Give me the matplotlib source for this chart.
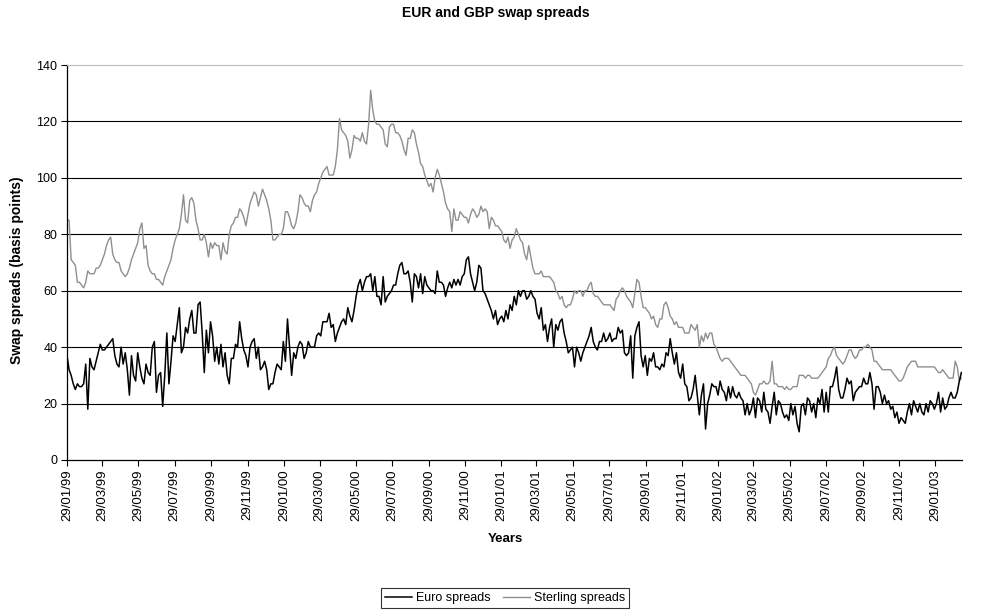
import matplotlib
matplotlib.use("Agg")
import matplotlib.pyplot as plt
import pandas as pd

plt.rcParams['font.family'] = ['Liberation Sans', 'DejaVu Sans']

# readings on Fridays, starting 29/01/1999 (basis points)
euro_fri = [37, 30, 25, 26, 27, 18, 33, 35, 41, 39, 41, 43, 34, 40, 38, 23, 30, 38, 29, 34,
            30, 42, 30, 19, 45, 35, 42, 54, 40, 45, 53, 45, 56, 31, 38, 44,
            40, 41, 38, 27, 36, 40, 43, 37, 40, 43, 40, 33, 32, 27, 31, 33, 42, 50, 30, 36,
            42, 36, 42, 40, 44, 44, 49, 52, 48, 45, 49, 48, 51, 53, 62,
            60, 65, 66, 65, 58, 65, 58, 60, 62, 69, 66, 67, 56, 65, 66, 65, 61, 60, 67, 63,
            58, 63, 64, 64, 65, 71, 66, 60, 69, 60, 57, 53, 53, 50, 49,
            50, 53, 55, 58, 60, 58, 58, 52, 54, 48, 47, 40, 46, 50, 42, 39, 33, 38, 38, 42,
            47, 40, 42, 45, 43, 42, 43, 45, 38, 38, 29, 47, 37, 37, 36,
            38, 33, 34, 38, 43, 34, 31, 34, 26, 22, 30, 16, 27, 20, 27, 26, 28, 24, 26, 26,
            22, 22, 16, 16, 22, 22, 17, 18, 13, 24, 21, 17, 16, 20, 19,
            10, 20, 22, 17, 15, 20, 17, 17, 26, 33, 22, 25, 27, 21, 25, 26, 27, 31, 18, 26,
            20, 20, 18, 15, 13, 14, 17, 16, 19, 20, 16, 17, 20, 20, 17, 18, 22,
            22, 24, 31]

sterling_fri = [85, 71, 69, 63, 61, 67, 66, 68, 69, 73, 78, 73, 70, 67, 65, 68, 73, 77, 84, 76,
                67, 66, 64, 62, 67, 71, 78, 82, 94, 84, 93, 85, 78, 80, 72, 75,
                76, 71, 74, 80, 84, 86, 88, 83, 91, 95, 90, 96, 92, 85, 78, 80, 82, 88, 83, 84,
                94, 91, 90, 92, 95, 100, 103, 101, 101, 110, 117, 115, 107, 115, 114,
                116, 112, 131, 120, 119, 117, 111, 119, 116, 115, 110, 114, 117, 112, 105, 101,
                97, 95, 103, 98, 91, 88, 89, 85, 87, 86, 87, 88, 87, 88, 88, 86, 83, 82, 78,
                79, 78, 82, 78, 73, 76, 68, 66, 67, 65, 65, 63, 59, 58, 54, 55, 60, 60, 58, 60,
                63, 58, 57, 55, 55, 54, 57, 60, 60, 57, 54, 64, 58, 54, 52,
                51, 47, 50, 56, 51, 48, 47, 47, 45, 48, 46, 40, 42, 43, 45, 40, 36, 36, 36, 34,
                32, 30, 30, 28, 24, 25, 27, 27, 28, 27, 26, 26, 26, 25, 26,
                30, 30, 30, 29, 29, 30, 32, 36, 39, 37, 35, 35, 39, 37, 37, 39, 40, 40, 35, 34,
                32, 32, 32, 30, 28, 29, 33, 35, 35, 33, 33, 33, 33, 32, 31, 31, 29,
                29, 33, 29]

# readings half-way between the Fridays
euro_mid = [32, 27, 27, 26, 34, 36, 32, 38, 39, 40, 42, 37, 33, 34, 32, 37, 28, 33, 27, 31,
            40, 24, 31, 30, 27, 44, 48, 38, 47, 50, 45, 55, 45, 46, 49,
            35, 34, 33, 30, 36, 41, 49, 39, 33, 42, 36, 32, 35, 25, 27, 34, 32, 35, 40, 38,
            40, 41, 38, 40, 40, 45, 49, 49, 47, 42, 47, 50, 54, 49, 58,
            64, 63, 65, 60, 58, 55, 56, 59, 62, 66, 70, 66, 63, 66, 61, 59, 62, 60, 59, 63,
            62, 61, 61, 62, 62, 66, 72, 63, 63, 68, 59, 55, 50, 48, 51,
            53, 55, 58, 60, 60, 57, 60, 57, 50, 46, 42, 50, 48, 49, 45, 38, 40, 40, 35, 40,
            44, 42, 39, 42, 42, 45, 43, 47, 46, 37, 44, 44, 49, 33, 30,
            35, 33, 32, 33, 37, 38, 38, 29, 27, 21, 25, 23, 23, 11, 23, 26, 23, 25, 21, 22,
            23, 24, 21, 20, 18, 15, 21, 24, 17, 19, 16, 20, 15, 14, 16,
            13, 19, 16, 21, 20, 22, 25, 24, 26, 29, 25, 22, 29, 28, 24, 26, 29, 27, 27, 26,
            24, 23, 21, 19, 17, 15, 13, 20, 21, 17, 17, 20, 21, 18, 24, 22, 19,
            24, 22, 28]

sterling_mid = [85, 70, 63, 62, 63, 66, 66, 68, 71, 76, 79, 71, 70, 66, 66, 71, 75, 82, 75, 69,
                66, 64, 63, 65, 69, 75, 80, 87, 85, 92, 91, 82, 78, 77, 77,
                77, 76, 77, 73, 83, 86, 89, 86, 87, 93, 94, 93, 94, 89, 78, 79, 80, 88, 86, 82,
                88, 93, 90, 88, 94, 98, 102, 104, 101, 104, 121, 116, 113, 110, 114,
                113, 113, 119, 124, 119, 118, 112, 118, 119, 116, 113, 108, 114, 116, 109, 104,
                99, 98, 100, 101, 95, 89, 81, 85, 88, 86, 84, 89, 86, 90, 89, 82, 85, 83, 81,
                77, 75, 79, 80, 77, 71, 72, 66, 66, 65, 65, 64, 60, 57, 55, 55, 57, 59, 60, 60,
                62, 59, 58, 56, 55, 55, 53, 58, 61, 58, 56, 59, 63, 54, 53,
                50, 48, 50, 55, 54, 50, 49, 47, 45, 45, 47, 48, 44, 45, 45, 41, 38, 35, 36, 35,
                33, 31, 30, 29, 27, 23, 27, 28, 27, 35, 27, 26, 25, 25, 26,
                26, 30, 29, 30, 29, 29, 31, 33, 37, 40, 36, 34, 37, 39, 36, 39, 40, 41, 39, 35,
                33, 32, 32, 31, 29, 28, 31, 34, 35, 33, 33, 33, 33, 33, 31, 32, 30,
                29, 35, 28]

fri = pd.date_range('1999-01-29', periods=len(euro_fri), freq='7D')
mid = pd.date_range('1999-02-01 12:00', periods=len(euro_mid), freq='7D')

df = pd.concat([
    pd.DataFrame({'euro': euro_fri, 'sterling': sterling_fri}, index=fri),
    pd.DataFrame({'euro': euro_mid, 'sterling': sterling_mid}, index=mid),
]).sort_index()

tick_dates = [pd.Timestamp(y, m, 29) for y in range(1999, 2004) for m in (1, 3, 5, 7, 9, 11)]
tick_dates = [d for d in tick_dates if d <= pd.Timestamp('2003-01-29')]
tick_labels = [d.strftime('%d/%m/%y') for d in tick_dates]

fig = plt.figure(figsize=(9.92, 6.13), dpi=100)
# plot area: x 67..962 px, y 65..460 px
ax = fig.add_axes([67 / 992, (613 - 460) / 613, (962 - 67) / 992, (460 - 65) / 613])

l1, = ax.plot(df.index, df['euro'], color='black', lw=1.1, label='Euro spreads', zorder=3)
l2, = ax.plot(df.index, df['sterling'], color='#8f8f8f', lw=1.0, label='Sterling spreads', zorder=2)

ax.set_ylim(0, 140)
ax.set_yticks(range(0, 141, 20))
ax.set_xlim(fri[0], pd.Timestamp('2003-03-15'))
ax.set_xticks(tick_dates)
ax.set_xticklabels(tick_labels, rotation=90, fontsize=9.5)
ax.tick_params(axis='y', labelsize=9)
ax.tick_params(direction='out', length=4, width=0.8, color='black', pad=3)

ax.yaxis.grid(True, color='black', lw=0.8)
ax.set_axisbelow(True)
glines = ax.get_ygridlines()
glines[0].set_visible(False)
glines[-1].set_color('#c0c0c0')

ax.spines['right'].set_visible(False)
ax.spines['top'].set_color('#c0c0c0')
ax.spines['left'].set_linewidth(0.9)
ax.spines['bottom'].set_linewidth(0.9)

fig.text(0.5, 1 - 13 / 613, 'EUR and GBP swap spreads', ha='center', va='center',
         fontsize=10, fontweight='bold')
fig.text(17 / 992, 1 - 270 / 613, 'Swap spreads (basis points)', rotation=90,
         ha='center', va='center', fontsize=10, fontweight='bold')
fig.text(505 / 992, 1 - 539 / 613, 'Years', ha='center', va='center',
         fontsize=9.5, fontweight='bold')

leg = fig.legend(handles=[l1, l2], loc='upper center', ncol=2,
                 bbox_to_anchor=(505 / 992, 1 - 582 / 613), fontsize=9,
                 frameon=True, fancybox=False, handlelength=2.2,
                 borderpad=0.3, columnspacing=1.0, handletextpad=0.3)
leg.get_frame().set_edgecolor('black')
leg.get_frame().set_linewidth(0.8)

fig.savefig('out.png', dpi=100)
